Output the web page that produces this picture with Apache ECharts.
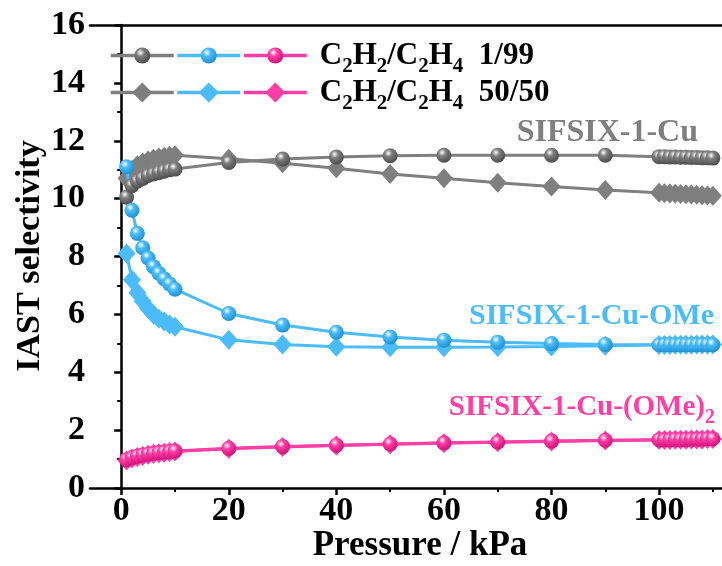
<!DOCTYPE html>
<html><head><meta charset="utf-8">
<script src="https://cdn.jsdelivr.net/npm/echarts@6/dist/echarts.min.js"></script>
<style>html,body{margin:0;padding:0;background:#fff}#c{width:722px;height:566px}</style>
</head><body><div id="c"></div><script>
// ---------------- data ----------------
const pressure = [1,2,3,4,5,6,7,8,9,10,20,30,40,50,60,70,80,90,100,101,102,103,104,105,106,107,108,109,110];
const cu_1_99 = [10.05,10.45,10.6,10.7,10.8,10.85,10.9,10.95,11.0,11.02,11.25,11.37,11.44,11.48,11.5,11.5,11.5,11.5,11.45,11.45,11.44,11.44,11.43,11.43,11.42,11.42,11.41,11.41,11.4];
const cu_50_50 = [10.7,11.0,11.15,11.25,11.32,11.38,11.42,11.45,11.48,11.5,11.38,11.22,11.05,10.85,10.7,10.55,10.42,10.3,10.2,10.19,10.18,10.17,10.16,10.15,10.14,10.13,10.12,10.11,10.1];
const ome_1_99 = [11.1,9.6,8.8,8.3,7.95,7.65,7.42,7.23,7.05,6.87,6.03,5.63,5.38,5.22,5.11,5.04,4.99,4.96,4.95,4.95,4.95,4.95,4.95,4.95,4.95,4.95,4.95,4.95,4.95];
const ome_50_50 = [8.1,7.2,6.75,6.45,6.2,6.0,5.85,5.75,5.65,5.57,5.12,4.96,4.88,4.86,4.86,4.87,4.89,4.92,4.94,4.94,4.94,4.95,4.95,4.95,4.95,4.96,4.96,4.96,4.96];
const ome2_1_99 = [0.98,1.05,1.1,1.14,1.17,1.2,1.22,1.24,1.26,1.28,1.37,1.43,1.48,1.52,1.56,1.59,1.62,1.65,1.67,1.67,1.67,1.68,1.68,1.68,1.69,1.69,1.69,1.7,1.7];
const ome2_50_50 = [0.95,1.02,1.07,1.11,1.15,1.18,1.2,1.22,1.24,1.26,1.36,1.42,1.47,1.51,1.55,1.58,1.61,1.64,1.66,1.66,1.66,1.67,1.67,1.67,1.68,1.68,1.68,1.69,1.69];
const xMajorTicks = [0,20,40,60,80,100];
const xMinorTicks = [10,30,50,70,90,110];
const materialNames = ['SIFSIX-1-Cu','SIFSIX-1-Cu-OMe','SIFSIX-1-Cu-(OMe)'];
// ---------------- style ----------------
const GRAY = '#7f7f7f', BLUE = '#4bbcf9', PINK = '#ff3fa5';
const FONT = '"Liberation Serif","Times New Roman",serif';
function ball(c, dark) {
  return {type:'radial', x:0.38, y:0.32, r:0.7, colorStops:[
    {offset:0,color:'#ffffff'},{offset:0.35,color:c},{offset:1,color:dark}]};
}
const pairs = a => pressure.map((p,i)=>[p,a[i]]);
function circ(name, data, c, dark) {
  return {name, type:'line', data:pairs(data), symbol:'circle', symbolSize:15,
    lineStyle:{color:c,width:3}, itemStyle:{color:ball(c,dark), borderWidth:0}, z:3, animation:false};
}
function dia(name, data, c) {
  return {name, type:'line', data:pairs(data), symbol:'diamond', symbolSize:[18,20],
    lineStyle:{color:c,width:3}, itemStyle:{color:c}, z:2, animation:false};
}
const chem = '{m|C}{s|2}{m|H}{s|2}{m|/C}{s|2}{m|H}{s|4}{m|  ';
const legendRich = {
  m:{fontFamily:FONT,fontWeight:'bold',fontSize:31,color:'#000'},
  s:{fontFamily:FONT,fontWeight:'bold',fontSize:21,color:'#000',padding:[22,0,0,0]},
  p:{width:8}
};
function legend(items, top, tail, ih) {
  return {data:items, top, left:104, orient:'horizontal', itemWidth:63, itemHeight:ih, itemGap:0,
    selectedMode:false, textStyle:{rich:legendRich}, lineStyle:{width:3.5},
    formatter: n => n === items[2] ? '{p|}' + chem + tail + '}' : ''};
}
const chart = echarts.init(document.getElementById('c'));
chart.setOption({
  animation:false,
  grid:{left:90, top:25, width:632, height:463},
  xAxis:[
    {type:'value', min:-5.8, max:111.7, position:'bottom',
     axisLine:{lineStyle:{color:'#000',width:2.5}},
     axisTick:{show:true, length:7, lineStyle:{width:2.5,color:'#000'}, customValues:xMajorTicks},
     axisLabel:{customValues:xMajorTicks, fontFamily:FONT, fontWeight:'bold', fontSize:34, color:'#000', margin:6},
     splitLine:{show:false}},
    {type:'value', min:-5.8, max:111.7, position:'bottom', gridIndex:0,
     axisLine:{show:false},
     axisTick:{show:true, length:4, lineStyle:{width:2,color:'#000'}, customValues:xMinorTicks},
     axisLabel:{show:false}, splitLine:{show:false}},
    {type:'value', min:-5.8, max:111.7, position:'top',
     axisLine:{lineStyle:{color:'#000',width:2.5}}, axisTick:{show:false}, axisLabel:{show:false}, splitLine:{show:false}}
  ],
  yAxis:{type:'value', min:0, max:16, interval:2,
    axisLine:{show:true, lineStyle:{color:'#000',width:2.5}},
    axisTick:{show:true, length:7, lineStyle:{width:2.5,color:'#000'}},
    minorTick:{show:true, splitNumber:2, length:4, lineStyle:{width:2,color:'#000'}},
    axisLabel:{fontFamily:FONT, fontWeight:'bold', fontSize:34, color:'#000', margin:5},
    splitLine:{show:false}},
  legend:[
    legend(['g1','b1','p1'], 35, '1/99', 20),
    legend(['g2','b2','p2'], 72, '50/50', 25)
  ],
  series:[
    dia('g2', cu_50_50, GRAY),
    circ('g1', cu_1_99, GRAY, '#4a4a4a'),
    dia('b2', ome_50_50, BLUE),
    circ('b1', ome_1_99, BLUE, '#1d8fd0'),
    dia('p2', ome2_50_50, PINK),
    circ('p1', ome2_1_99, PINK, '#d0107a')
  ],
  graphic:[
    {type:'text', rotation:Math.PI/2, style:{text:'IAST selectivity', font:'bold 34px '+FONT, fill:'#000', textAlign:'center', textVerticalAlign:'middle'}, x:30, y:256},
    {type:'text', x:420, y:546, style:{text:'Pressure / kPa', font:'bold 35px '+FONT, fill:'#000', textAlign:'center', textVerticalAlign:'middle'}},
    {type:'text', x:698, y:133, style:{text:materialNames[0], font:'bold 32px '+FONT, fill:GRAY, textAlign:'right', textVerticalAlign:'middle'}},
    {type:'text', x:714, y:316, style:{text:materialNames[1], font:'bold 30px '+FONT, fill:BLUE, textAlign:'right', textVerticalAlign:'middle'}},
    {type:'text', x:715, y:408, style:{text:'{a|'+materialNames[2]+'}{b|2}', fill:PINK, align:'right', verticalAlign:'middle', rich:{
      a:{font:'bold 29px '+FONT, fill:PINK},
      b:{font:'bold 20px '+FONT, fill:PINK, padding:[20,0,0,0]}}}}
  ]
});
</script></body></html>
